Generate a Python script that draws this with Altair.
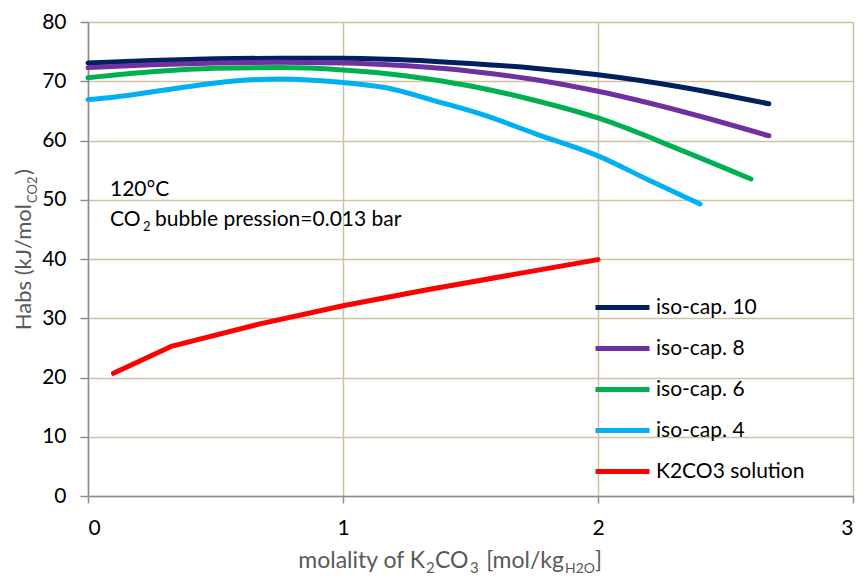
import altair as alt
import pandas as pd

# ---- data ----
series_names = ["iso-cap. 10", "iso-cap. 8", "iso-cap. 6", "iso-cap. 4", "K2CO3 solution"]
series_colors = ["#002060", "#7030A0", "#00B050", "#00B0F0", "#FF0000"]

iso10_x = [0, 0.25, 0.5, 0.75, 1.0, 1.25, 1.5, 1.75, 2.0, 2.33, 2.67]
iso10_y = [73.1, 73.5, 73.8, 73.9, 73.9, 73.6, 73.0, 72.2, 71.1, 69.0, 66.2]

iso8_x = [0, 0.25, 0.5, 0.75, 1.0, 1.25, 1.5, 1.75, 2.0, 2.33, 2.67]
iso8_y = [72.3, 72.8, 73.1, 73.2, 73.1, 72.6, 71.7, 70.3, 68.3, 64.9, 60.8]

iso6_x = [0, 0.25, 0.5, 0.75, 1.0, 1.25, 1.5, 1.75, 2.0, 2.33, 2.6]
iso6_y = [70.6, 71.6, 72.2, 72.3, 71.9, 70.9, 69.2, 66.8, 63.8, 58.3, 53.5]

iso4_x = [0, 0.1, 0.33, 0.5, 0.75, 1.0, 1.17, 1.36, 1.56, 1.75, 2.0, 2.2, 2.4]
iso4_y = [66.9, 67.3, 68.7, 69.7, 70.4, 69.8, 68.9, 66.7, 64.2, 61.2, 57.4, 53.3, 49.3]

sol_x = [0.1, 0.33, 0.67, 1.0, 1.33, 1.67, 2.0]
sol_y = [20.7, 25.3, 29.0, 32.1, 34.8, 37.4, 39.9]

x_ticks = [0, 1, 2, 3]
y_ticks = [0, 10, 20, 30, 40, 50, 60, 70, 80]

rows = []
for order, (name, xs, ys) in enumerate(zip(series_names[:4],
                                          [iso10_x, iso8_x, iso6_x, iso4_x],
                                          [iso10_y, iso8_y, iso6_y, iso4_y])):
    for a, b in zip(xs, ys):
        rows.append({"m": a, "h": b, "series": name, "o": order})
iso_df = pd.DataFrame(rows)
sol_df = pd.DataFrame({"m": sol_x, "h": sol_y, "series": series_names[4], "o": 4})

FONT = "Lato"
GRID = "#cbc3a3"
AXIS = "#8c8c8c"
TITLE = "#595959"

xscale = alt.Scale(domain=[0, 3], nice=False, zero=False)
yscale = alt.Scale(domain=[0, 80], nice=False)
color = alt.Color(
    "series:N",
    scale=alt.Scale(domain=series_names, range=series_colors),
    legend=alt.Legend(
        orient="none", legendX=512, legendY=263, title=None,
        symbolType="M-1.35,0H1.35", symbolSize=1600, symbolStrokeWidth=5,
        labelFontSize=21, labelFont=FONT, labelColor="black", labelOffset=11,
        rowPadding=8, padding=0, labelLimit=300,
    ),
)

xaxis = alt.Axis(values=x_ticks, format="d", title=None, tickSize=7, tickColor=AXIS,
                 tickWidth=1.5, domainColor=AXIS, domainWidth=1.5, grid=True,
                 gridColor=GRID, gridWidth=1.5, labelFontSize=21, labelFont=FONT,
                 labelColor="black", labelPadding=14)
yaxis = alt.Axis(values=y_ticks, format="d", title=None, tickSize=8, tickColor=AXIS,
                 tickWidth=1.5, domainColor=AXIS, domainWidth=1.5, grid=True,
                 gridColor=GRID, gridWidth=1.5, labelFontSize=21, labelFont=FONT,
                 labelColor="black", labelPadding=14)

iso_lines = alt.Chart(iso_df).mark_line(strokeWidth=5, strokeCap="round", interpolate="monotone").encode(
    x=alt.X("m:Q", scale=xscale, axis=xaxis),
    y=alt.Y("h:Q", scale=yscale, axis=yaxis),
    color=color,
    detail="o:O",
)
sol_line = alt.Chart(sol_df).mark_line(strokeWidth=5, strokeCap="round", strokeJoin="round").encode(
    x=alt.X("m:Q", scale=xscale),
    y=alt.Y("h:Q", scale=yscale),
    color=color,
)

one = alt.Data(values=[{"k": 1}])


def txt(s, x, y, size=20, col="black", align="left", angle=0):
    kw = dict(text=s, fontSize=size, font=FONT, color=col, align=align, baseline="alphabetic")
    if angle:
        kw["angle"] = angle
    return alt.Chart(one).mark_text(**kw).encode(x=alt.value(x), y=alt.value(y))


texts = [
    # annotation
    txt("120°C", 22, 174, 21),
    txt("CO", 22, 204, 21),
    txt("2", 55, 209, 13),
    txt("bubble pression=0.013 bar", 67, 204, 21),
    # x title
    txt("molality of K", 337, 546, 23, TITLE, "right"),
    txt("2", 338, 551, 15, TITLE),
    txt("CO", 347, 546, 23, TITLE),
    txt("3", 382, 551, 15, TITLE),
    txt("[mol/kg", 476, 546, 23, TITLE, "right"),
    txt("H2O", 477, 551, 14, TITLE),
    txt("]", 507, 546, 23, TITLE),
    # y title (rotated)
    txt("Habs (kJ/mol", -57, 182, 22, TITLE, "right", 270),
    txt("CO2", -51, 181, 13, TITLE, "left", 270),
    txt(")", -57, 153, 22, TITLE, "left", 270),
]

chart = alt.layer(iso_lines, sol_line, *texts).properties(
    width=765, height=474,
    autosize=alt.AutoSizeParams(type="none"),
    padding={"left": 80, "top": 14, "right": 6, "bottom": 79},
).configure_view(strokeWidth=0)

chart.save("out.html", embed_options={"renderer": "svg", "actions": False})
